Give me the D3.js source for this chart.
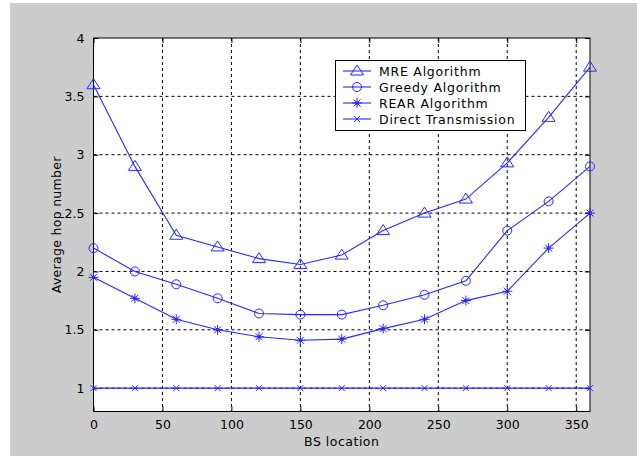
<!DOCTYPE html>
<html><head><meta charset="utf-8">
<script src="https://cdn.jsdelivr.net/npm/d3@7"></script>
<style>body{margin:0;background:#fff}svg{display:block}</style>
</head><body>
<script>
const xs = [0,30,60,90,120,150,180,210,240,270,300,330,360];
const mre = [3.6,2.9,2.31,2.21,2.11,2.06,2.14,2.35,2.5,2.62,2.93,3.32,3.75];
const greedy = [2.2,2.0,1.89,1.77,1.64,1.63,1.63,1.71,1.80,1.92,2.35,2.6,2.9];
const rear = [1.95,1.77,1.59,1.5,1.44,1.41,1.42,1.51,1.59,1.75,1.83,2.2,2.5];
const direct = [1,1,1,1,1,1,1,1,1,1,1,1,1];
const seriesNames = ["MRE Algorithm","Greedy Algorithm","REAR Algorithm","Direct Transmission"];
const xTicks = [0,50,100,150,200,250,300,350];
const yTicks = [1,1.5,2,2.5,3,3.5,4];

const W=637,H=459;
const svg=d3.select("body").append("svg").attr("width",W).attr("height",H);
svg.append("rect").attr("x",10).attr("y",3).attr("width",W-10).attr("height",453).attr("fill","#cccccc");
const L=93.5,R=590,T=38,B=411.5;
const x=d3.scaleLinear().domain([0,360]).range([L,R]);
const y=d3.scaleLinear().domain([0.8,4]).range([B,T]);
svg.append("rect").attr("x",L).attr("y",T).attr("width",R-L).attr("height",B-T).attr("fill","#fff");
const font="'DejaVu Sans', Verdana, sans-serif";
const fs=12.5;
// grid
const g=svg.append("g");
xTicks.forEach(t=>{ if(t>0) g.append("line").attr("x1",x(t)).attr("x2",x(t)).attr("y1",T).attr("y2",B).attr("stroke","#000").attr("stroke-width",1).attr("stroke-dasharray","3,3");});
yTicks.forEach(t=>{ if(t<4) g.append("line").attr("x1",L).attr("x2",R).attr("y1",y(t)).attr("y2",y(t)).attr("stroke","#000").attr("stroke-width",1).attr("stroke-dasharray","3,3");});
// axes via d3
const xAxis=d3.axisBottom(x).tickValues(xTicks).tickSize(-5).tickPadding(9).tickFormat(d3.format("d"));
const yAxis=d3.axisLeft(y).tickValues(yTicks).tickSize(-5).tickPadding(9).tickFormat(d=>String(d));
const gx=svg.append("g").attr("transform",`translate(0,${B})`).call(xAxis);
const gy=svg.append("g").attr("transform",`translate(${L},0)`).call(yAxis);
const gxt=svg.append("g").attr("transform",`translate(0,${T})`).call(d3.axisTop(x).tickValues(xTicks).tickSize(-5).tickFormat(""));
const gyr=svg.append("g").attr("transform",`translate(${R},0)`).call(d3.axisRight(y).tickValues(yTicks).tickSize(-5).tickFormat(""));
[gx,gy,gxt,gyr].forEach(a=>{a.select(".domain").remove();a.selectAll("line").attr("stroke","#000");a.selectAll("text").attr("font-family",font).attr("font-size",fs).attr("fill","#000");});
svg.append("rect").attr("x",L).attr("y",T).attr("width",R-L).attr("height",B-T).attr("fill","none").attr("stroke","#000").attr("stroke-width",1);
// labels
svg.append("text").attr("x",(L+R)/2).attr("y",446).attr("text-anchor","middle").attr("font-family",font).attr("font-size",fs).attr("letter-spacing",0.5).text("BS location");
svg.append("text").attr("transform",`translate(61,${(T+B)/2}) rotate(-90)`).attr("text-anchor","middle").attr("font-family",font).attr("font-size",fs).attr("letter-spacing",0.3).text("Average hop number");

const col="#2828ff";
function marker(sel,type,cx,cy){
  if(type==="tri"){sel.append("path").attr("d",`M${cx},${cy-6}L${cx+6.5},${cy+4}L${cx-6.5},${cy+4}Z`).attr("fill","none").attr("stroke",col).attr("stroke-width",1);}
  else if(type==="circ"){sel.append("circle").attr("cx",cx).attr("cy",cy).attr("r",4.5).attr("fill","none").attr("stroke",col).attr("stroke-width",1);}
  else if(type==="star"){
    sel.append("path").attr("d",`M${cx},${cy-5}V${cy+5}M${cx-5},${cy}H${cx+5}M${cx-3.5},${cy-3.5}L${cx+3.5},${cy+3.5}M${cx-3.5},${cy+3.5}L${cx+3.5},${cy-3.5}`).attr("stroke",col).attr("stroke-width",1);
    sel.append("circle").attr("cx",cx).attr("cy",cy).attr("r",1.8).attr("fill",col);
  } else {
    sel.append("path").attr("d",`M${cx-3},${cy-3}L${cx+3},${cy+3}M${cx-3},${cy+3}L${cx+3},${cy-3}`).attr("stroke",col).attr("stroke-width",1);
  }
}
const series=[[mre,"tri"],[greedy,"circ"],[rear,"star"],[direct,"x"]];
const line=d3.line().x(d=>x(d[0])).y(d=>y(d[1]));
series.forEach(([vals,type])=>{
  const pts=xs.map((v,i)=>[v,vals[i]]);
  svg.append("path").attr("d",line(pts)).attr("fill","none").attr("stroke",col).attr("stroke-width",1.1);
  const mg=svg.append("g");
  pts.forEach(p=>marker(mg,type,x(p[0]),y(p[1])));
});
// legend
const lg=svg.append("g");
lg.append("rect").attr("x",335.5).attr("y",60.5).attr("width",190).attr("height",70).attr("fill","#fff").attr("stroke","#000");
seriesNames.forEach((n,i)=>{
  const yy=71+i*16;
  lg.append("line").attr("x1",343).attr("x2",371).attr("y1",yy).attr("y2",yy).attr("stroke",col).attr("stroke-width",1.1);
  marker(lg,series[i][1],357,yy);
  lg.append("text").attr("x",379).attr("y",yy+4.5).attr("font-family",font).attr("font-size",fs).attr("letter-spacing",0.75).text(n);
});
</script>
</body></html>
